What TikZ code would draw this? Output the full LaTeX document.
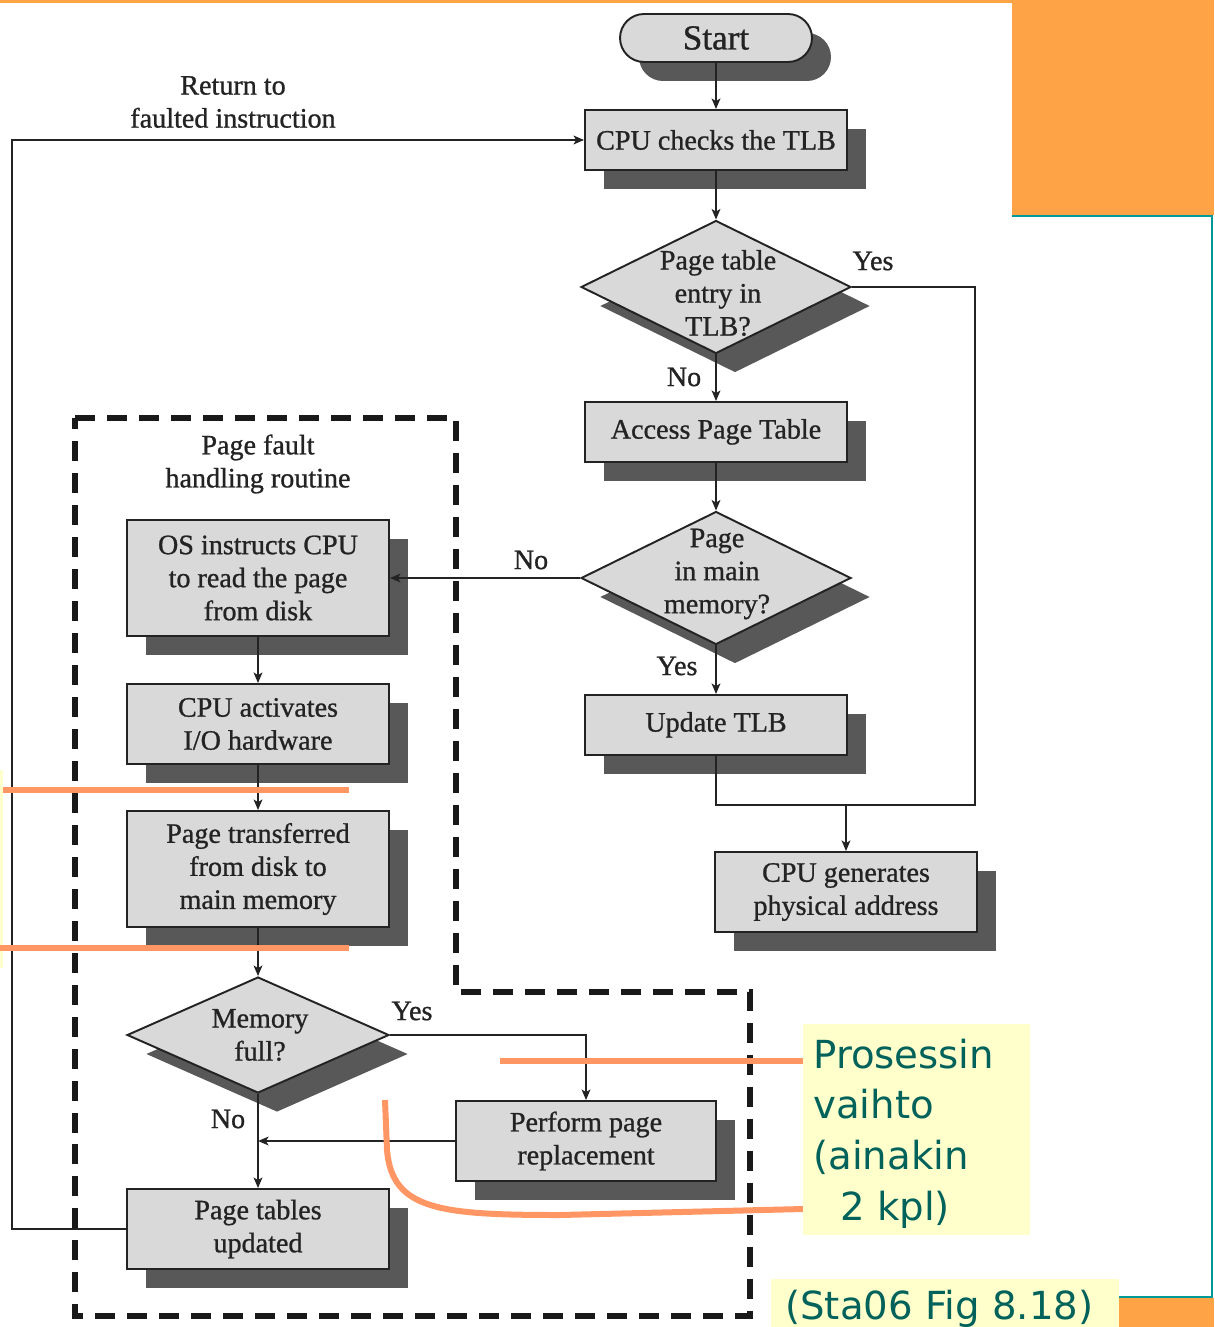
\documentclass[tikz,border=0pt]{standalone}
\usepackage{fontspec}
\setmainfont{Liberation Serif}
\newfontfamily\flowfont[FakeBold=0.9]{Liberation Serif}
\newfontfamily\notefont{DejaVu Sans}
\usetikzlibrary{shapes.geometric,shadows,arrows.meta}

\definecolor{boxgray}{RGB}{217,217,217}
\definecolor{shadegray}{RGB}{88,88,88}
\definecolor{slideorange}{RGB}{255,163,71}
\definecolor{slideteal}{RGB}{0,153,153}
\definecolor{noteyellow}{RGB}{255,255,204}
\definecolor{noteteal}{RGB}{0,98,90}
\definecolor{markorange}{RGB}{255,150,100}
\definecolor{inkgray}{RGB}{35,35,35}

\begin{document}
\begin{tikzpicture}[x=0.02cm,y=-0.02cm,
  flowtext/.style={font=\flowfont\fontsize{16}{18.8}\selectfont, text=inkgray, align=center},
  shade/.style={drop shadow={shadow xshift=0.38cm, shadow yshift=-0.38cm, opacity=1, fill=shadegray}},
  procbox/.style={flowtext, shade, draw=inkgray, line width=1.1pt, fill=boxgray,
    inner sep=0pt, minimum width=5.24cm, minimum height=1.2cm},
  decision/.style={diamond, shade, draw=inkgray, line width=1.1pt, fill=boxgray,
    inner sep=0pt, minimum width=5.4cm, minimum height=2.66cm},
  conn/.style={draw=inkgray, line width=1pt},
  arr/.style={conn, -{Stealth[length=6pt,width=5pt,inset=1.5pt]}},
  marker/.style={draw=markorange, line width=0.12cm},
  notetext/.style={font=\notefont\fontsize{22}{29}\selectfont, text=noteteal, inner sep=0pt, anchor=base west}]

\useasboundingbox (0,0) rectangle (1214,1327);
\clip (0,0) rectangle (1214,1327);

% slide frame
\fill[white] (0,0) rectangle (1214,1327);
\fill[slideorange] (0,0) rectangle (1012,3);
\fill[slideorange] (1012,0) rectangle (1214,215);
\draw[slideteal, line width=0.05cm] (1012,216) -- (1212,216) -- (1212,1297) -- (1118,1297);
\fill[slideorange] (1118,1298) rectangle (1214,1327);
\fill[noteyellow] (0,770) rectangle (3,968);

% page fault handling region
\draw[black!90, line width=0.12cm, dash pattern=on 0.4cm off 0.24cm]
  (75,418) -- (456,418) -- (456,992) -- (750,992) -- (750,1316) -- (75,1316) -- cycle;
\node[flowtext] (pfr) at (258,464) {Page fault\\handling routine};

% main flow
\node[procbox, rectangle, rounded corners=0.48cm, minimum width=3.84cm, minimum height=0.96cm,
  font=\flowfont\fontsize{20}{22}\selectfont] (start) at (716,38) {Start};
\node[procbox] (chk) at (716,140) {CPU checks the TLB};
\node[decision] (d1) at (716,287) {};
\node[flowtext] (d1t) at (718,293) {Page table\\entry in\\TLB?};
\node[procbox] (acc) at (716,432) {\strut Access Page Table};
\node[decision] (d2) at (716,578) {};
\node[flowtext] (d2t) at (717,574) {Page\\in main\\memory?};
\node[procbox] (upd) at (716,725) {\strut Update TLB};
\node[procbox, minimum height=1.6cm] (gen) at (846,892) {CPU generates\\physical address};

% page fault routine
\node[procbox, minimum height=2.32cm] (os) at (258,578) {OS instructs CPU\\to read the page\\from disk};
\node[procbox, minimum height=1.6cm] (io) at (258,724) {CPU activates\\I/O hardware};
\node[procbox, minimum height=2.32cm] (xfer) at (258,869) {Page transferred\\from disk to\\main memory};
\node[decision, minimum width=5.24cm, minimum height=2.32cm] (mf) at (258,1035) {};
\node[flowtext] (mft) at (260,1035) {Memory\\full?};
\node[procbox, minimum width=5.2cm, minimum height=1.6cm] (rep) at (586,1141) {Perform page\\replacement};
\node[procbox, minimum height=1.6cm] (ptu) at (258,1229) {Page tables\\updated};

% junction points
\coordinate (j1) at (846,805);
\coordinate (rc) at (975,805);
\coordinate (lft) at (12,0);

% connectors
\draw[arr] (start) -- (chk);
\draw[arr] (chk) -- (d1);
\draw[arr] (d1) -- (acc);
\draw[arr] (acc) -- (d2);
\draw[arr] (d2) -- (upd);
\draw[conn] (d1.east) -| (rc) -- (j1);
\draw[conn] (upd.south) |- (j1);
\draw[arr] (j1) -- (gen.north);
\draw[arr] (d2.west) -- (os.east);
\draw[arr] (os) -- (io);
\draw[arr] (io) -- (xfer);
\draw[arr] (xfer) -- (mf);
\draw[arr] (mf.east) -| (rep.north);
\draw[arr] (rep.west) -- (rep.west -| mf.south);
\draw[arr] (mf.south) -- (ptu.north);
\draw[arr] (ptu.west) -- (ptu.west -| lft) |- (chk.west);

% connector labels
\node[flowtext] (ret) at (233,102) {Return to\\faulted instruction};
\node[flowtext] (y1) at (873,261) {Yes};
\node[flowtext] (n1) at (684,377) {No};
\node[flowtext] (n2) at (531,560) {No};
\node[flowtext] (y2) at (677,666) {Yes};
\node[flowtext] (y3) at (412,1011) {Yes};
\node[flowtext] (n3) at (228,1119) {No};

% annotations
\draw[marker] (3,790) -- (349,790);
\draw[marker] (0,948) -- (349,948);
\draw[marker] (500,1061) -- (803,1061);
\draw[marker] (385,1100) -- (387,1150) .. controls (392,1210) and (440,1215) .. (560,1215) -- (803,1209);

\fill[noteyellow] (803,1024) rectangle (1030,1235);
\node[notetext] (nl1) at (813,1068) {Prosessin};
\node[notetext] (nl2) at (813,1118) {vaihto};
\node[notetext] (nl3) at (813,1169) {(ainakin};
\node[notetext] (nl4) at (840,1220) {2 kpl)};

\fill[noteyellow] (771,1279) rectangle (1119,1327);
\node[notetext] (src) at (785,1319) {(Sta06 Fig 8.18)};

\end{tikzpicture}
\end{document}
